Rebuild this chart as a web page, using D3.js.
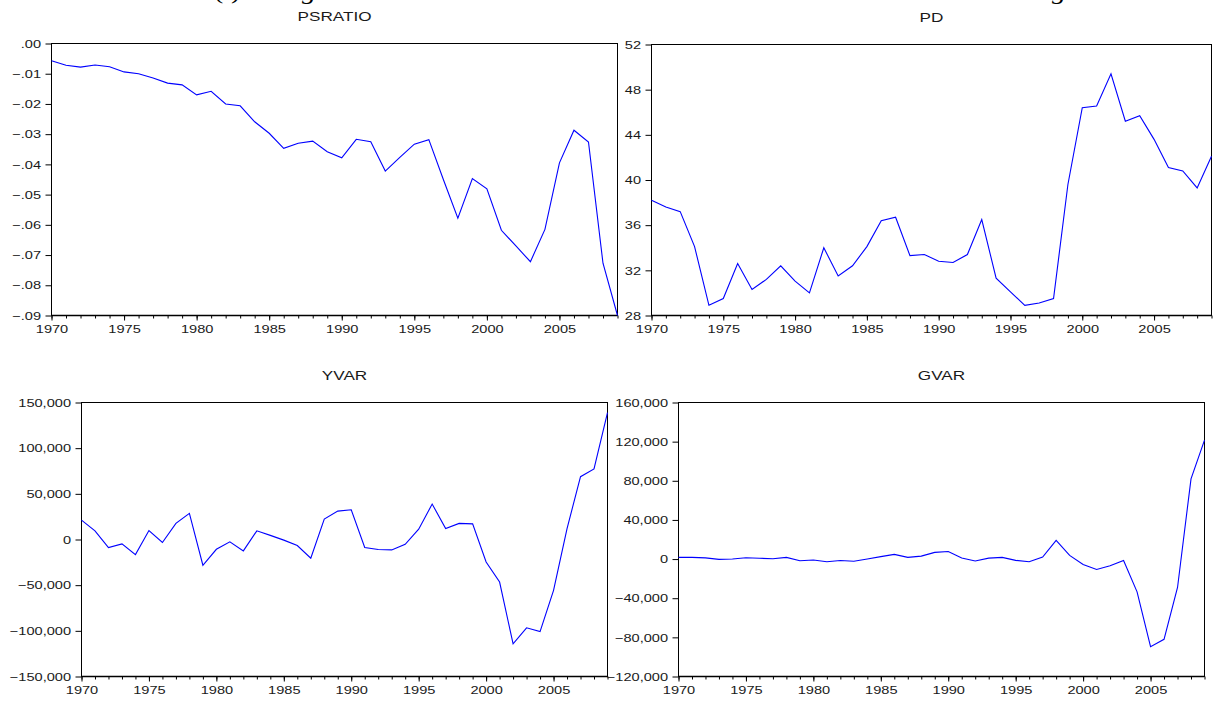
<!DOCTYPE html>
<html>
<head>
<meta charset="utf-8">
<script src="https://cdn.jsdelivr.net/npm/d3@7"></script>
<style>
  html, body { margin: 0; padding: 0; background: #fff; }
  svg { display: block; }
  text { font-family: "Liberation Sans", Arial, sans-serif; fill: #1a1a1a; }
</style>
</head>
<body>
<svg id="chart" width="1213" height="702"></svg>
<script>
// ---- data ----
const years = [1970,1971,1972,1973,1974,1975,1976,1977,1978,1979,
               1980,1981,1982,1983,1984,1985,1986,1987,1988,1989,
               1990,1991,1992,1993,1994,1995,1996,1997,1998,1999,
               2000,2001,2002,2003,2004,2005,2006,2007,2008,2009];

const psratio = [-0.0057,-0.0072,-0.0078,-0.0071,-0.0077,-0.0094,-0.0100,-0.0114,-0.0131,-0.0137,
                 -0.0170,-0.0158,-0.0200,-0.0206,-0.0259,-0.0297,-0.0347,-0.0330,-0.0323,-0.0358,
                 -0.0378,-0.0317,-0.0325,-0.0422,-0.0377,-0.0333,-0.0318,-0.0450,-0.0578,-0.0447,
                 -0.0481,-0.0618,-0.0670,-0.0722,-0.0615,-0.0395,-0.0287,-0.0326,-0.0727,-0.0900];

const pd = [38.2,37.6,37.2,34.1,28.9,29.5,32.6,30.3,31.2,32.4,
            31.05,30.0,34.0,31.5,32.4,34.1,36.4,36.7,33.3,33.4,
            32.8,32.7,33.4,36.5,31.3,30.1,28.9,29.1,29.5,39.6,
            46.4,46.55,49.4,45.2,45.7,43.6,41.1,40.8,39.3,42.1];

const yvar = [21200,9500,-8800,-4800,-16500,9800,-3300,17600,28600,-28200,
              -10700,-2600,-12500,9500,4500,-700,-6600,-20500,22300,31100,
              32500,-8800,-11000,-11400,-5200,11300,38800,12100,17600,17100,
              -24600,-46600,-114300,-96700,-100800,-55700,12000,68800,77200,139000];

const gvar = [1700,1700,1200,-300,0,1300,800,400,1700,-1700,
              -1000,-2700,-1500,-2300,0,2500,4800,1700,3000,6800,
              7800,1000,-2000,1000,1700,-1300,-2700,2000,19200,3800,
              -5500,-10600,-6800,-1400,-33500,-89600,-82000,-29000,82000,121500];

const psTicks = [0,-0.01,-0.02,-0.03,-0.04,-0.05,-0.06,-0.07,-0.08,-0.09];
const pdTicks = [28,32,36,40,44,48,52];
const yvarTicks = [-150000,-100000,-50000,0,50000,100000,150000];
const gvarTicks = [-120000,-80000,-40000,0,40000,80000,120000,160000];
const yearLabels = [1970,1975,1980,1985,1990,1995,2000,2005];
const titles = ["PSRATIO","PD","YVAR","GVAR"];

// ---- drawing ----
const SX = 1.27; // horizontal stretch of the original picture's text
const svg = d3.select("#chart");

const fmtPs = v => d3.format(".2f")(v).replace("0.", ".");
const fmtPd = d3.format("d");
const fmtBig = d3.format(",");

const panels = [
  {title: titles[0], vals: psratio, dom: [-0.09, 0], ticks: psTicks, fmt: fmtPs,
   box: {l: 51.5, r: 617.5, t: 43.5, b: 315.5}},
  {title: titles[1], vals: pd, dom: [28, 52], ticks: pdTicks, fmt: fmtPd,
   box: {l: 651.5, r: 1211.5, t: 44.5, b: 315.5}},
  {title: titles[2], vals: yvar, dom: [-150000, 150000], ticks: yvarTicks, fmt: fmtBig,
   box: {l: 81.5, r: 607.5, t: 402.5, b: 676.5}},
  {title: titles[3], vals: gvar, dom: [-120000, 160000], ticks: gvarTicks, fmt: fmtBig,
   box: {l: 678.5, r: 1204.5, t: 402.5, b: 676.5}}
];

// fragments of the cut-off heading above the chart
const head = svg.append("g");
[["(i)", 214], ["g", 302], ["g", 1052]].forEach(([t, x]) => {
  head.append("text").text(t)
    .attr("transform", `translate(${x},-1) scale(${SX},1)`)
    .style("font-family", "'Liberation Serif', 'Times New Roman', serif")
    .style("font-size", "22px").style("font-style", t === "g" ? "italic" : "normal")
    .style("fill", "#000");
});

panels.forEach(p => {
  const b = p.box;
  const x = d3.scaleLinear().domain([1970, 2009]).range([b.l, b.r]);
  const y = d3.scaleLinear().domain(p.dom).range([b.b, b.t]);
  const g = svg.append("g");

  // title
  g.append("text").text(p.title)
    .attr("text-anchor", "middle")
    .attr("transform", `translate(${(b.l + b.r) / 2},${b.t - 22.5}) scale(${SX},1)`)
    .style("font-size", "13.5px");

  // y axis
  const ya = g.append("g").attr("transform", `translate(${b.l},0)`)
    .call(d3.axisLeft(y).tickValues(p.ticks).tickFormat(p.fmt).tickSize(6).tickSizeOuter(0).tickPadding(4));
  ya.select(".domain").remove();
  ya.selectAll("line").attr("stroke", "#000");
  ya.selectAll("text")
    .attr("x", -10.5 / SX)
    .attr("transform", `scale(${SX},1)`)
    .style("font-size", "11.5px").style("font-family", "'Liberation Sans', Arial, sans-serif").attr("fill", "#1a1a1a");

  // x axis minor ticks (every year)
  const xm = g.append("g").attr("transform", `translate(0,${b.b})`)
    .call(d3.axisBottom(x).tickValues(years).tickFormat("").tickSize(3).tickSizeOuter(0));
  xm.select(".domain").remove();
  xm.selectAll("line").attr("stroke", "#000");

  // x axis major ticks + labels
  const xa = g.append("g").attr("transform", `translate(0,${b.b})`)
    .call(d3.axisBottom(x).tickValues(yearLabels).tickFormat(d3.format("d")).tickSize(5).tickSizeOuter(0).tickPadding(4));
  xa.select(".domain").remove();
  xa.selectAll("line").attr("stroke", "#000");
  xa.selectAll("text")
    .attr("transform", `scale(${SX},1)`)
    .style("font-size", "11.5px").style("font-family", "'Liberation Sans', Arial, sans-serif").attr("fill", "#1a1a1a");

  // frame
  g.append("rect")
    .attr("x", b.l).attr("y", b.t).attr("width", b.r - b.l).attr("height", b.b - b.t)
    .attr("fill", "none").attr("stroke", "#000").attr("stroke-width", 1);
  g.append("line").attr("x1", b.l).attr("x2", b.r).attr("y1", b.b).attr("y2", b.b)
    .attr("stroke", "#000").attr("stroke-width", 1.5);

  // series line
  const line = d3.line().x((d, i) => x(years[i])).y(d => y(d));
  g.append("path").datum(p.vals)
    .attr("d", line)
    .attr("fill", "none").attr("stroke", "#0000ff").attr("stroke-width", 1.1)
    .attr("stroke-linejoin", "miter");
});
</script>
</body>
</html>
